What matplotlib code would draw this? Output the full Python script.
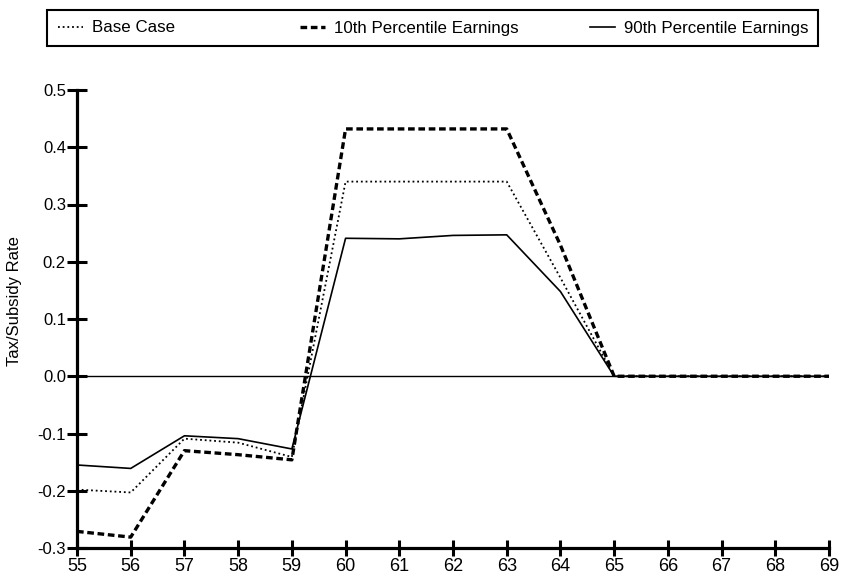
import matplotlib
matplotlib.use("Agg")
import matplotlib.pyplot as plt
from matplotlib.patches import Rectangle
from matplotlib.ticker import FormatStrFormatter

plt.rcParams['font.family'] = ['Liberation Sans', 'DejaVu Sans']
plt.rcParams['axes.unicode_minus'] = False

ages = [55, 56, 57, 58, 59, 60, 61, 62, 63, 64, 65, 66, 67, 68, 69]
base_case = [-0.198, -0.203, -0.109, -0.116, -0.141, 0.340, 0.340, 0.340, 0.340, 0.172,
             0.0, 0.0, 0.0, 0.0, 0.0]
p10 = [-0.271, -0.281, -0.130, -0.137, -0.146, 0.432, 0.432, 0.432, 0.432, 0.229,
       0.0, 0.0, 0.0, 0.0, 0.0]
p90 = [-0.155, -0.161, -0.104, -0.109, -0.127, 0.241, 0.240, 0.246, 0.247, 0.148,
       0.0, 0.0, 0.0, 0.0, 0.0]
labels = ["Base Case", "10th Percentile Earnings", "90th Percentile Earnings"]
yticks = [-0.3, -0.2, -0.1, 0.0, 0.1, 0.2, 0.3, 0.4, 0.5]

fig = plt.figure(figsize=(8.44, 5.81), dpi=100)
ax = fig.add_axes([77/844, 1-548/581, (829-77)/844, (548-90)/581])

ax.axhline(0, color='black', lw=1.0, zorder=1)
l1, = ax.plot(ages, base_case, color='black', lw=1.3, linestyle=(0, (1, 1.6)))
l2, = ax.plot(ages, p10, color='black', lw=2.4, linestyle=(0, (2, 1.1)))
l3, = ax.plot(ages, p90, color='black', lw=1.2, linestyle='-')

ax.set_xlim(55, 69)
ax.set_ylim(-0.3, 0.5)
ax.set_xticks(ages)
ax.set_yticks(yticks)
ax.yaxis.set_major_formatter(FormatStrFormatter('%.1f'))
for s in ['top', 'right']:
    ax.spines[s].set_visible(False)
for s in ['left', 'bottom']:
    ax.spines[s].set_linewidth(2.3)
ax.tick_params(axis='y', direction='inout', length=14, width=2.2, labelsize=12, pad=1)
ax.tick_params(axis='x', direction='inout', length=12, width=2.2, labelsize=13, pad=1)
ax.set_ylabel("Tax/Subsidy Rate", fontsize=12)
ax.yaxis.set_label_coords(-0.073, 0.54)

# legend box
fig.patches.append(Rectangle((47/844, 1-46/581), 771/844, 36/581, transform=fig.transFigure,
                             fill=False, edgecolor='black', lw=1.5))
positions = [58/844, 300/844, 590/844]
for h, lab, xp in zip([l1, l2, l3], labels, positions):
    fig.legend([h], [lab], loc='center left', bbox_to_anchor=(xp, 1-28/581),
               frameon=False, fontsize=12.2, handlelength=1.5, handletextpad=0.5,
               borderpad=0, borderaxespad=0)

fig.savefig("out.png", dpi=100)
